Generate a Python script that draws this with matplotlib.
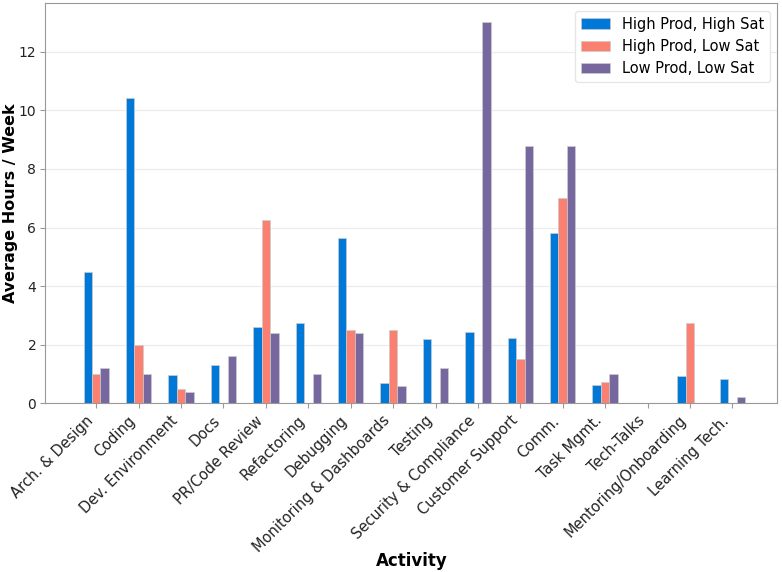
import matplotlib
matplotlib.use("Agg")
import matplotlib.pyplot as plt
import numpy as np

plt.rcParams["font.family"] = ["DejaVu Sans"]

activities = ["Arch. & Design", "Coding", "Dev. Environment", "Docs", "PR/Code Review",
              "Refactoring", "Debugging", "Monitoring & Dashboards", "Testing",
              "Security & Compliance", "Customer Support", "Comm.", "Task Mgmt.",
              "Tech-Talks", "Mentoring/Onboarding", "Learning Tech."]
high_prod_high_sat = [4.47, 10.43, 0.95, 1.3, 2.6, 2.75, 5.63, 0.68, 2.19, 2.42, 2.22, 5.81, 0.61, 0.0, 0.92, 0.84]
high_prod_low_sat = [1.0, 2.0, 0.5, 0.0, 6.25, 0.0, 2.5, 2.5, 0.0, 0.0, 1.51, 7.0, 0.74, 0.0, 2.75, 0.0]
low_prod_low_sat = [1.2, 1.0, 0.4, 1.6, 2.4, 1.0, 2.4, 0.6, 1.2, 13.0, 8.78, 8.78, 1.0, 0.0, 0.0, 0.2]

series = [("High Prod, High Sat", high_prod_high_sat, "#0078D7"),
          ("High Prod, Low Sat", high_prod_low_sat, "#FA8072"),
          ("Low Prod, Low Sat", low_prod_low_sat, "#76689F")]

fig, ax = plt.subplots(figsize=(7.82, 5.72), dpi=100)
fig.subplots_adjust(left=0.058, right=0.994, top=0.994, bottom=0.295)

x = np.arange(len(activities))
w = 0.2
for i, (name, vals, col) in enumerate(series):
    ax.bar(x + (i - 1) * w, vals, w, label=name, color=col, edgecolor="#cccccc", linewidth=0.5, zorder=3)

ax.set_xlim(-1.2, len(activities) - 1 + 1.06)
ax.set_ylim(0, 13.0 * 1.05)
ax.set_xticks(x)
ax.set_xticklabels(activities, rotation=45, ha="right", fontsize=10.5)
ax.tick_params(axis="y", labelsize=10, pad=3)
ax.tick_params(colors="#999999", which="both")
ax.tick_params(axis="both", labelcolor="#222222")
ax.yaxis.grid(True, color="#ebebeb", linewidth=0.8, zorder=0)
ax.set_axisbelow(True)
for s in ax.spines.values():
    s.set_color("#999999")
ax.set_xlabel("Activity", fontsize=12, fontweight="bold")
ax.set_ylabel("Average Hours / Week", fontsize=11.5, fontweight="bold")
ax.xaxis.set_label_coords(0.5, -0.372)
ax.yaxis.set_label_coords(-0.038, 0.5)
leg = ax.legend(loc="upper right", fontsize=10.5, framealpha=1, edgecolor="#e6e6e6")

fig.savefig("out.png", dpi=100)
